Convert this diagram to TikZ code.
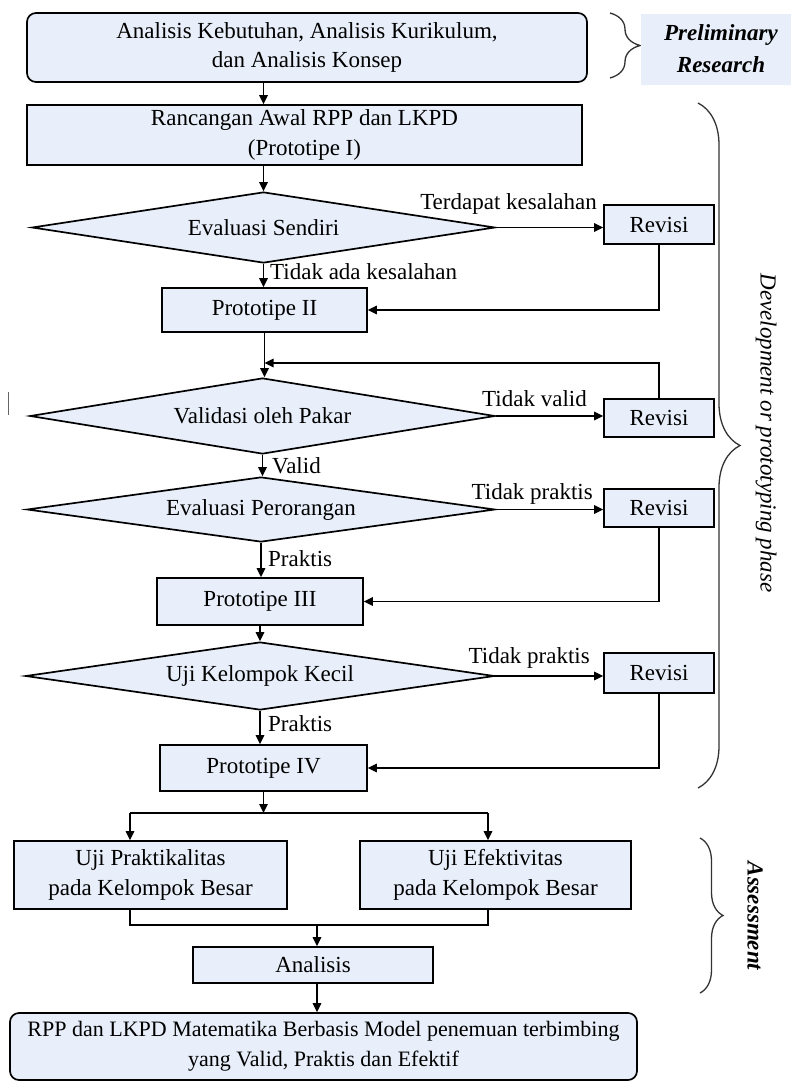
\documentclass[tikz,border=0pt]{standalone}
\usepackage{fontspec}
\setmainfont{Liberation Serif}
\usetikzlibrary{shapes.geometric,arrows.meta,decorations.pathreplacing}
\definecolor{boxfill}{RGB}{232,239,250}
\begin{document}
\begin{tikzpicture}[x=1pt,y=-1pt,
  every node/.style={font=\fontsize{23}{29.5}\selectfont, inner sep=0pt},
  box/.style={draw, line width=1.7pt, fill=boxfill, rectangle, align=center},
  rbox/.style={box, rounded corners=9pt},
  dec/.style={draw, line width=1.7pt, fill=boxfill, diamond, aspect=6.5},
  arr/.style={line width=1.5pt, -{Triangle[length=9pt,width=8.5pt]}},
  ln/.style={line width=1.5pt},
  lbl/.style={font=\fontsize{23}{26}\selectfont},
  brc/.style={decorate, decoration={brace, amplitude=#1}, line width=1.3pt, draw=black!80},
  side/.style={font=\fontsize{23}{32}\selectfont\itshape, align=center},
]
\useasboundingbox (0,0) rectangle (791,1082);

% nodes
\node[rbox, minimum width=560pt, minimum height=69pt] (pre) at (307,47.5) {Analisis Kebutuhan, Analisis Kurikulum,\\ dan Analisis Konsep};
\node[box, minimum width=555pt, minimum height=60pt] (rancang) at (304.5,135) {Rancangan Awal RPP dan LKPD\\ (Prototipe I)};
\node[dec, minimum width=463pt, minimum height=71pt] (es) at (263.5,227.5) {Evaluasi Sendiri};
\node[box, minimum width=110pt, minimum height=39pt] (rev1) at (659,224.5) {Revisi};
\node[box, minimum width=205pt, minimum height=44pt] (p2) at (264.5,310) {Prototipe II};
\node[dec, minimum width=465pt, minimum height=76pt] (vp) at (262.5,416) {Validasi oleh Pakar};
\node[box, minimum width=110pt, minimum height=38pt] (rev2) at (659,418) {Revisi};
\node[dec, minimum width=468pt, minimum height=65pt] (ep) at (261,509.5) {Evaluasi Perorangan};
\node[box, minimum width=110pt, minimum height=38pt] (rev3) at (659,508) {Revisi};
\node[box, minimum width=206pt, minimum height=47pt] (p3) at (260,601.5) {Prototipe III};
\node[dec, minimum width=469pt, minimum height=68pt] (uk) at (260,676) {Uji Kelompok Kecil};
\node[box, minimum width=110pt, minimum height=40pt] (rev4) at (659,673) {Revisi};
\node[box, minimum width=207pt, minimum height=46pt] (p4) at (263.5,768) {Prototipe IV};
\node[box, minimum width=273pt, minimum height=68pt] (up) at (150.5,875) {Uji Praktikalitas\\ pada Kelompok Besar};
\node[box, minimum width=271pt, minimum height=68pt] (ue) at (495.5,875) {Uji Efektivitas\\ pada Kelompok Besar};
\node[box, minimum width=240pt, minimum height=36pt] (an) at (313,965) {Analisis};
\node[rbox, minimum width=627pt, minimum height=67pt, font=\fontsize{22}{30}\selectfont] (fin) at (323.5,1046.5) {RPP dan LKPD Matematika Berbasis Model penemuan terbimbing\\ yang Valid, Praktis dan Efektif};

% junction coordinates
\coordinate (j2) at (264.5,363);
\coordinate (s) at (263.5,813);
\coordinate (sl) at (130,813);
\coordinate (sr) at (488,813);
\coordinate (jl) at (130,925);
\coordinate (jr) at (488,925);
\coordinate (jm) at (317,925);

% connectors
\draw[arr] (es.north |- pre.south) -- (es.north |- rancang.north);
\draw[arr] (es.north |- rancang.south) -- (es.north);
\draw[arr] (es.east) -- (es.east -| rev1.west);
\draw[arr] (es.south) -- (es.south |- p2.north);
\draw[arr] (rev1.south) |- (p2.east);
\draw[arr] (p2.south) -- (p2.south |- vp.north);
\draw[arr] (rev2.north) |- (j2);
\draw[arr] (vp.east) -- (vp.east -| rev2.west);
\draw[arr] (vp.south) -- (vp.south |- ep.north);
\draw[arr] (ep.east) -- (ep.east -| rev3.west);
\draw[arr] (ep.south) -- (ep.south |- p3.north);
\draw[arr] (rev3.south) |- (p3.east);
\draw[arr] (p3.south) -- (p3.south |- uk.north);
\draw[arr] (uk.east) -- (uk.east -| rev4.west);
\draw[arr] (uk.south) -- (uk.south |- p4.north);
\draw[arr] (rev4.south) |- (p4.east);
\draw[arr] (p4.south) -- (s);
\draw[ln] (sl) -- (sr);
\draw[arr] (sl) -- (sl |- up.north);
\draw[arr] (sr) -- (sr |- ue.north);
\draw[ln] (jl |- up.south) -- (jl) -- (jr) -- (jr |- ue.south);
\draw[arr] (jm) -- (jm |- an.north);
\draw[arr] (jm |- an.south) -- (jm |- fin.north);

% connector labels
\node[lbl, anchor=base east] (l1) at (597,209) {Terdapat kesalahan};
\node[lbl, anchor=base west] (l2) at (270,279) {Tidak ada kesalahan};
\node[lbl, anchor=base east] (l3) at (587,406) {Tidak valid};
\node[lbl, anchor=base west] (l4) at (272,473) {Valid};
\node[lbl, anchor=base east] (l5) at (593,499) {Tidak praktis};
\node[lbl, anchor=base west] (l6) at (268,566) {Praktis};
\node[lbl, anchor=base east] (l7) at (590,663) {Tidak praktis};
\node[lbl, anchor=base west] (l8) at (268,731) {Praktis};

% braces and phase labels
\draw[brc=30pt] (610,13) -- (610,78);
\draw[brc=42pt] (698,103) -- (698,788);
\draw[brc=23pt] (700,838) -- (700,993);
\node[fill=boxfill, minimum width=150pt, minimum height=71pt] (prelbox) at (716,49.5) {};
\node[side, font=\fontsize{23}{32}\selectfont\bfseries\itshape] (prel) at (721,49) {Preliminary\\ Research};
\node[side, rotate=-90] (dev) at (766,433) {Development or prototyping phase};
\node[side, rotate=-90, font=\fontsize{23}{32}\selectfont\bfseries\itshape] (ass) at (755,916) {Assessment};

% stray mark
\draw[black!60, line width=1pt] (8,392) -- (8,415);
\end{tikzpicture}
\end{document}
